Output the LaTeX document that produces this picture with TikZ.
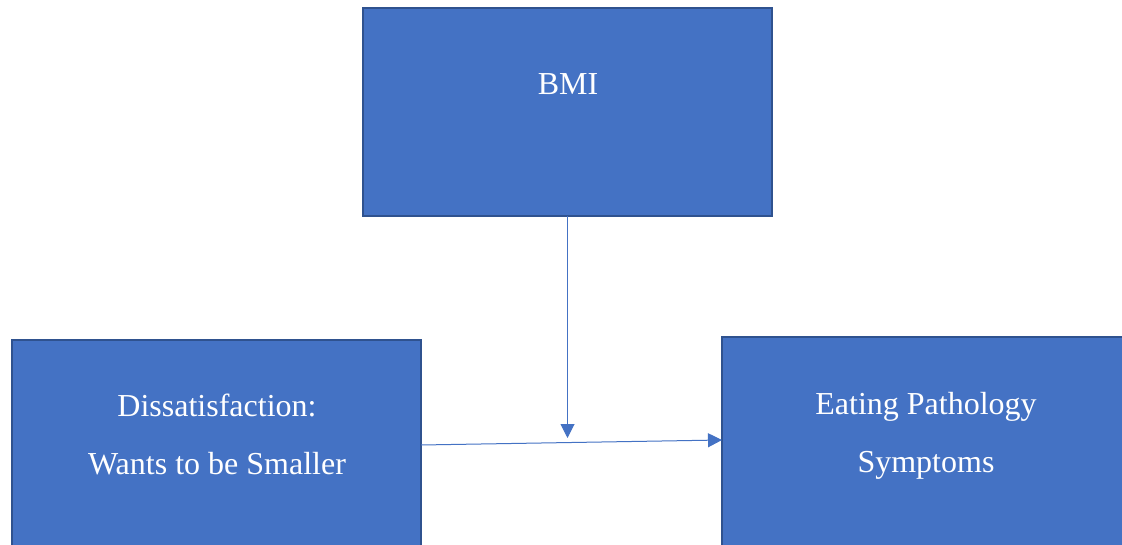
\documentclass[tikz,border=0pt]{standalone}
\usepackage{fontspec}
\setmainfont{Liberation Serif}
\usetikzlibrary{arrows.meta}
\begin{document}
\begin{tikzpicture}[x=1pt,y=1pt]
\definecolor{fillColor}{RGB}{68,114,196}
\definecolor{drawColor}{RGB}{47,82,143}
\tikzset{
  boxStyle/.style={draw=drawColor,line width=1.5pt,fill=fillColor,inner sep=0pt,outer sep=0pt,anchor=north west},
  labelStyle/.style={text=white,anchor=base,inner sep=0pt,outer sep=0pt,font=\fontsize{32}{38}\selectfont},
  arrowStyle/.style={draw=fillColor,line width=1pt,-{Triangle[length=14pt,width=14pt]}}
}
\path[use as bounding box,fill=white] (0,0) rectangle (1122,544);
\begin{scope}
\path[clip] (0,0) rectangle (1122,544);

\node[boxStyle,minimum width=409,minimum height=208] (bmi) at (363,536) {};

\node[boxStyle,minimum width=409,minimum height=260] (dis) at ( 12,204) {};

\node[boxStyle,minimum width=409,minimum height=260] (eat) at (722,207) {};

\node[labelStyle] (bmiText) at (568,449) {BMI};

\node[labelStyle] (disTextA) at (217,128) {Dissatisfaction:};

\node[labelStyle] (disTextB) at (217, 70) {Wants to be Smaller};

\node[labelStyle] (eatTextA) at (926,130) {Eating Pathology};

\node[labelStyle] (eatTextB) at (926, 72) {Symptoms};

\coordinate (meet) at (bmi.south |- 0,106);
\coordinate (disOut) at (dis.east |- 0, 99);
\coordinate (eatIn) at (eat.west |- 0,104);

\draw[arrowStyle] (bmi.south) -- (meet);

\draw[arrowStyle] (disOut) -- (eatIn);
\end{scope}
\end{tikzpicture}
\end{document}
